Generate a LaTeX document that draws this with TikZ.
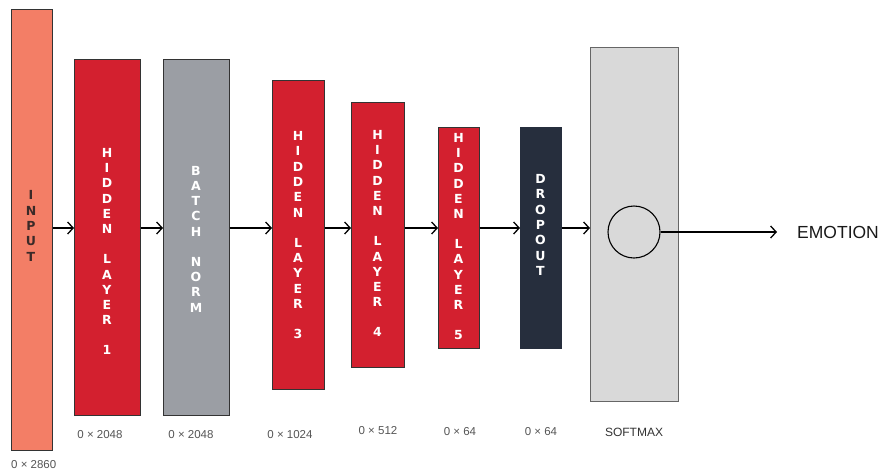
\documentclass[tikz,border=0pt]{standalone}
\usepackage{fontspec}
\setmainfont{Liberation Sans}
\newfontfamily\boxfont{DejaVu Sans}
\usetikzlibrary{arrows.meta}
\definecolor{inputc}{HTML}{F37E66}
\definecolor{hidc}{HTML}{D3202F}
\definecolor{bnc}{HTML}{9B9EA4}
\definecolor{dropc}{HTML}{262E3D}
\definecolor{smc}{HTML}{D9D9D9}
\definecolor{labc}{HTML}{555555}
\definecolor{edgec}{HTML}{333333}
\definecolor{intext}{HTML}{3A2A28}
\tikzset{
  layer/.style={draw=edgec, line width=0.7pt, anchor=north west, inner sep=0pt},
  vtext/.style={align=center, inner sep=0pt, text=white,
    font=\boxfont\bfseries\fontsize{12.5}{15.3}\selectfont},
  dimlab/.style={font=\fontsize{11.5}{13}\selectfont, text=labc, inner sep=0pt},
  arr/.style={-{Straight Barb[length=5.5pt,width=12pt,line width=1.3pt]}, line width=1.3pt, black},
}
\newcommand{\wgap}{\\[14.7pt]}
\begin{document}
\begin{tikzpicture}[x=1pt,y=-1pt]
\useasboundingbox[fill=white] (0,0) rectangle (881,472);
% layers
\node[layer, fill=inputc, minimum width=41pt, minimum height=441pt] (in) at (11,9) {};
\node[layer, fill=hidc, minimum width=66pt, minimum height=356pt] (h1) at (74,59) {};
\node[layer, fill=bnc, minimum width=66pt, minimum height=356pt] (bn) at (163,59) {};
\node[layer, fill=hidc, minimum width=52pt, minimum height=309pt] (h3) at (272,80) {};
\node[layer, fill=hidc, minimum width=53pt, minimum height=265pt] (h4) at (351,102) {};
\node[layer, fill=hidc, minimum width=41pt, minimum height=221pt] (h5) at (438,127) {};
\node[layer, fill=dropc, draw=dropc, minimum width=41pt, minimum height=221pt] (dr) at (520,127) {};
\node[layer, fill=smc, draw=black!60, minimum width=88pt, minimum height=354pt] (sm) at (590,47) {};
% vertical texts
\node[vtext, text=intext] (tin) at (31,226) {I\\N\\P\\U\\T};
\node[vtext] (th1) at (107,251.5) {H\\I\\D\\D\\E\\N\wgap L\\A\\Y\\E\\R\wgap 1};
\node[vtext] (tbn) at (196,239) {B\\A\\T\\C\\H\wgap N\\O\\R\\M};
\node[vtext] (th3) at (298,235) {H\\I\\D\\D\\E\\N\wgap L\\A\\Y\\E\\R\wgap 3};
\node[vtext] (th4) at (377.5,233.5) {H\\I\\D\\D\\E\\N\wgap L\\A\\Y\\E\\R\wgap 4};
\node[vtext] (th5) at (458.5,236.5) {H\\I\\D\\D\\E\\N\wgap L\\A\\Y\\E\\R\wgap 5};
\node[vtext] (tdr) at (540.5,225) {D\\R\\O\\P\\O\\U\\T};
% dimension labels
\node[dimlab, anchor=west] (lin) at (11,465) {0 × 2860};
\node[dimlab] (lh1) at (100,435) {0 × 2048};
\node[dimlab] (lbn) at (191,435) {0 × 2048};
\node[dimlab] (lh3) at (290,435) {0 × 1024};
\node[dimlab] (lh4) at (378,431) {0 × 512};
\node[dimlab] (lh5) at (460,432) {0 × 64};
\node[dimlab] (ldr) at (541,432) {0 × 64};
\node[inner sep=0pt, font=\fontsize{12}{14}\selectfont, text=edgec] (lsm) at (634,432) {SOFTMAX};
% circle and output
\node[circle, draw=black, line width=1.1pt, minimum size=52pt, inner sep=0pt] (c) at (634,232) {};
\coordinate (out) at (777,232);
\node[anchor=west, inner sep=0pt, font=\fontsize{17.5}{20}\selectfont, text=black!90] (emo) at (797,232) {EMOTION};
% connectors
\coordinate (ay) at (0,228);
\draw[arr] (in.east |- ay) -- (h1.west |- ay);
\draw[arr] (h1.east |- ay) -- (bn.west |- ay);
\draw[arr] (bn.east |- ay) -- (h3.west |- ay);
\draw[arr] (h3.east |- ay) -- (h4.west |- ay);
\draw[arr] (h4.east |- ay) -- (h5.west |- ay);
\draw[arr] (h5.east |- ay) -- (dr.west |- ay);
\draw[arr] (dr.east |- ay) -- (sm.west |- ay);
\draw[arr] (c.east) -- (out);
\end{tikzpicture}
\end{document}
